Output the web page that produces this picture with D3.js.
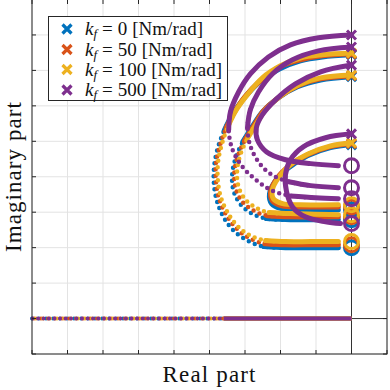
<!DOCTYPE html>
<html><head><meta charset="utf-8">
<script src="https://cdn.jsdelivr.net/npm/d3@7"></script>
<style>body{margin:0;background:#fff}svg{display:block}</style>
</head><body><svg id="c" width="390" height="390"></svg>
<script>
const kfValues = ["0", "50", "100", "500"];
const seriesColors = ["#0072BD", "#D95319", "#EDB120", "#7E2F8E"];
const xTicks = [-9, -8, -7, -6, -5, -4, -3, -2, -1, 0, 1];
const yTicks = [-1, 0, 1, 2, 3, 4, 5, 6, 7, 8, 9];

// Each branch: dense part near the pole (a), sparse middle (m), dense part near the zero (b), zero location (z)
const locus_kf0 = [
  {a: [[0,7.44],[-0.82,7.38],[-1.44,7.27],[-2.03,7.04],[-2.56,6.70],[-3.04,6.20],[-3.36,5.75]],
   m: [[-3.58,5.32],[-3.75,4.87],[-3.86,4.37],[-3.88,3.86],[-3.80,3.35],[-3.61,2.87],[-3.32,2.48],[-2.93,2.20],[-2.47,2.03]],
   b: [[-1.86,2.00],[-1.15,2.00],[-0.37,2.00]], z: [0,2.00]},
  {a: [[0,6.82],[-0.87,6.73],[-1.52,6.54],[-2.06,6.23],[-2.51,5.83],[-2.80,5.41]],
   m: [[-3.06,4.99],[-3.26,4.54],[-3.36,4.08],[-3.33,3.63],[-3.14,3.24],[-2.80,2.96],[-2.40,2.82]],
   b: [[-1.72,2.79],[-0.37,2.79]], z: [0,2.79]},
  {a: [[0,4.90],[-0.59,4.82],[-1.24,4.59],[-1.77,4.25],[-2.14,3.89],[-2.31,3.52],[-2.25,3.24],[-1.97,3.10],[-1.44,3.07],[-0.37,3.07]],
   m: [], b: [], z: [0,3.07]}
];
const locus_kf50 = [
  {a: [[0,7.46],[-0.82,7.41],[-1.44,7.30],[-2.03,7.10],[-2.54,6.73],[-3.01,6.25],[-3.33,5.77]],
   m: [[-3.53,5.38],[-3.69,4.93],[-3.81,4.42],[-3.82,3.92],[-3.74,3.41],[-3.55,2.96],[-3.26,2.56],[-2.90,2.28],[-2.44,2.11]],
   b: [[-1.86,2.08],[-1.15,2.08],[-0.37,2.08]], z: [0,2.08]},
  {a: [[0,6.85],[-0.87,6.76],[-1.52,6.56],[-2.03,6.25],[-2.48,5.86],[-2.74,5.46]],
   m: [[-3.00,5.04],[-3.20,4.59],[-3.30,4.14],[-3.27,3.69],[-3.08,3.30],[-2.75,3.04],[-2.37,2.90]],
   b: [[-1.72,2.87],[-0.37,2.87]], z: [0,2.87]},
  {a: [[0,4.93],[-0.59,4.85],[-1.24,4.62],[-1.75,4.31],[-2.11,3.94],[-2.28,3.58],[-2.23,3.32],[-1.97,3.18],[-1.44,3.15],[-0.37,3.15]],
   m: [], b: [], z: [0,3.15]}
];
const locus_kf100 = [
  {a: [[0,7.49],[-0.82,7.44],[-1.44,7.35],[-2.00,7.13],[-2.51,6.79],[-2.96,6.28],[-3.28,5.83]],
   m: [[-3.47,5.44],[-3.63,4.99],[-3.75,4.48],[-3.77,3.97],[-3.69,3.46],[-3.50,3.01],[-3.22,2.62],[-2.85,2.34],[-2.42,2.20]],
   b: [[-1.86,2.17],[-1.15,2.17],[-0.37,2.17]], z: [0,2.17]},
  {a: [[0,6.87],[-0.87,6.79],[-1.49,6.59],[-2.00,6.28],[-2.42,5.89],[-2.68,5.49]],
   m: [[-2.92,5.10],[-3.12,4.65],[-3.22,4.20],[-3.19,3.75],[-3.01,3.38],[-2.69,3.13],[-2.32,2.99]],
   b: [[-1.72,2.96],[-0.37,2.93]], z: [0,2.93]},
  {a: [[0,4.96],[-0.59,4.87],[-1.21,4.65],[-1.72,4.34],[-2.06,3.97],[-2.23,3.63],[-2.20,3.38],[-1.94,3.24],[-1.44,3.21],[-0.37,3.21]],
   m: [], b: [], z: [0,3.21]}
];
const locus_kf500 = [
  {a: [[0,5.21],[-0.73,5.10],[-1.35,4.85],[-1.72,4.48],[-1.86,4.06],[-1.83,3.58],[-1.66,3.15],[-1.30,2.87],[-0.73,2.73],[-0.31,2.68]],
   m: [], b: [], z: [0,2.68]},
  {a: [[0,7.15],[-0.87,6.96],[-1.58,6.62],[-2.14,6.17],[-2.51,5.75],[-2.68,5.38],[-2.65,5.04],[-2.39,4.70],[-1.86,4.48],[-1.15,4.37],[-0.37,4.31]],
   m: [], b: [], z: [0,4.31]},
  {a: [[0,7.66],[-0.93,7.55],[-1.66,7.30],[-2.23,6.90],[-2.62,6.39],[-2.85,5.89]],
   m: [[-2.93,5.38],[-2.85,4.87],[-2.62,4.42],[-2.28,4.08],[-1.77,3.86]],
   b: [[-1.15,3.75],[-0.37,3.69]], z: [0,3.69]},
  {a: [[0,8.00],[-0.93,7.92],[-1.72,7.72],[-2.34,7.38],[-2.85,6.90],[-3.18,6.39],[-3.41,5.83]],
   m: [[-3.46,5.32],[-3.35,4.76],[-3.07,4.28],[-2.70,3.92],[-2.28,3.63],[-1.72,3.46]],
   b: [[-1.01,3.41],[-0.37,3.38]], z: [0,3.38]}
];
// real-axis branch (integrator pole going to -infinity)
const realAxisSparse = [[-9,0],[-3.6,0]];
const realAxisDense = [[-3.6,0],[0,0]];

const loci = [locus_kf0, locus_kf50, locus_kf100, locus_kf500];

const svg = d3.select("#c");
const L = 32, R = 387, T = -0.5, B = 354;
const x = d3.scaleLinear().domain([-9, 1]).range([L, R]);
const y = d3.scaleLinear().domain([-1, 9]).range([B, T]);

// grid
const grid = svg.append("g");
grid.selectAll("line.gx").data(xTicks).join("line")
  .attr("x1", d => x(d)).attr("x2", d => x(d)).attr("y1", B).attr("y2", 0)
  .attr("stroke", "#e3e3e3").attr("stroke-width", 1);
grid.selectAll("line.gy").data(yTicks).join("line")
  .attr("y1", d => y(d)).attr("y2", d => y(d)).attr("x1", L).attr("x2", R)
  .attr("stroke", "#e3e3e3").attr("stroke-width", 1);
// zero lines
svg.append("line").attr("x1", x(0)).attr("x2", x(0)).attr("y1", 0).attr("y2", B)
  .attr("stroke", "#333").attr("stroke-width", 1);
svg.append("line").attr("x1", L).attr("x2", R).attr("y1", y(0)).attr("y2", y(0))
  .attr("stroke", "#333").attr("stroke-width", 1);

const line = d3.line().x(d => x(d[0])).y(d => y(d[1])).curve(d3.curveCatmullRom);
const plot = svg.append("g");
const realDash = ["0 7", "0 7", "0 7", "0 5.5"];

loci.forEach((branches, k) => {
  const col = seriesColors[k];
  const g = plot.append("g");
  // real axis
  g.append("path").attr("d", line(realAxisSparse)).attr("fill", "none")
    .attr("stroke", col).attr("stroke-width", 4).attr("stroke-linecap", "round")
    .attr("stroke-dasharray", realDash[k]).attr("stroke-dashoffset", -k * 2);
  g.append("path").attr("d", line(realAxisDense)).attr("fill", "none")
    .attr("stroke", col).attr("stroke-width", 4);
  branches.forEach(br => {
    if (br.m.length) {
      const dense1 = br.a.concat([br.m[0]]);
      const mid = [br.a[br.a.length - 1]].concat(br.m, [br.b[0]]);
      const dense2 = [br.m[br.m.length - 1]].concat(br.b);
      g.append("path").attr("d", line(dense1)).attr("fill", "none").attr("stroke", col)
        .attr("stroke-width", 5).attr("stroke-linecap", "round");
      g.append("path").attr("d", line(mid)).attr("fill", "none").attr("stroke", col)
        .attr("stroke-width", 4.5).attr("stroke-linecap", "round").attr("stroke-dasharray", "0 6.5");
      g.append("path").attr("d", line(dense2)).attr("fill", "none").attr("stroke", col)
        .attr("stroke-width", 5).attr("stroke-linecap", "round");
    } else {
      g.append("path").attr("d", line(br.a)).attr("fill", "none").attr("stroke", col)
        .attr("stroke-width", 5).attr("stroke-linecap", "round");
    }
    // pole marker
    const p = br.a[0];
    g.append("path").attr("transform", `translate(${x(p[0])},${y(p[1])})`)
      .attr("d", "M-4.5,-4.5L4.5,4.5M-4.5,4.5L4.5,-4.5")
      .attr("stroke", col).attr("stroke-width", 3).attr("fill", "none");
    // zero marker
    g.append("circle").attr("cx", x(br.z[0])).attr("cy", y(br.z[1])).attr("r", 7)
      .attr("fill", "none").attr("stroke", col).attr("stroke-width", 3);
  });
});

// box + inward ticks
svg.append("rect").attr("x", L).attr("y", -1).attr("width", R - L).attr("height", B + 1)
  .attr("fill", "none").attr("stroke", "#262626").attr("stroke-width", 1);
const tickG = svg.append("g").attr("stroke", "#262626").attr("stroke-width", 1);
xTicks.forEach(t => {
  tickG.append("line").attr("x1", x(t)).attr("x2", x(t)).attr("y1", B).attr("y2", B - 4);
  tickG.append("line").attr("x1", x(t)).attr("x2", x(t)).attr("y1", 0).attr("y2", 4);
});
yTicks.forEach(t => {
  tickG.append("line").attr("y1", y(t)).attr("y2", y(t)).attr("x1", L).attr("x2", L + 4);
  tickG.append("line").attr("y1", y(t)).attr("y2", y(t)).attr("x1", R).attr("x2", R - 4);
});

// axis labels
const serif = "'Liberation Serif', 'DejaVu Serif', serif";
svg.append("text").attr("x", 209).attr("y", 382).attr("text-anchor", "middle")
  .attr("font-family", serif).attr("font-size", 23).attr("fill", "#111")
  .attr("textLength", 93).attr("lengthAdjust", "spacing").text("Real part");
svg.append("text").attr("transform", "translate(21,177) rotate(-90)").attr("text-anchor", "middle")
  .attr("font-family", serif).attr("font-size", 23).attr("fill", "#111")
  .attr("textLength", 150).attr("lengthAdjust", "spacing").text("Imaginary part");

// legend
const lg = svg.append("g");
lg.append("rect").attr("x", 48.5).attr("y", 16.5).attr("width", 179).attr("height", 84)
  .attr("fill", "#fff").attr("stroke", "#262626").attr("stroke-width", 1);
const legY = [29, 49.5, 69.5, 90];
kfValues.forEach((v, i) => {
  lg.append("path").attr("transform", `translate(67,${legY[i]})`)
    .attr("d", "M-4.5,-4.5L4.5,4.5M-4.5,4.5L4.5,-4.5")
    .attr("stroke", seriesColors[i]).attr("stroke-width", 3.2).attr("fill", "none");
  const t = lg.append("text").attr("x", 85).attr("y", legY[i] + 6)
    .attr("font-family", serif).attr("font-size", 19).attr("fill", "#111");
  t.append("tspan").attr("font-style", "italic").text("k");
  t.append("tspan").attr("font-style", "italic").attr("font-size", 13).attr("dy", 3).text("f");
  t.append("tspan").attr("dy", -3).attr("dx", 5).text("=");
  t.append("tspan").attr("dx", 5).text(v);
  t.append("tspan").attr("dx", 5).text("[Nm/rad]");
});
</script></body></html>
